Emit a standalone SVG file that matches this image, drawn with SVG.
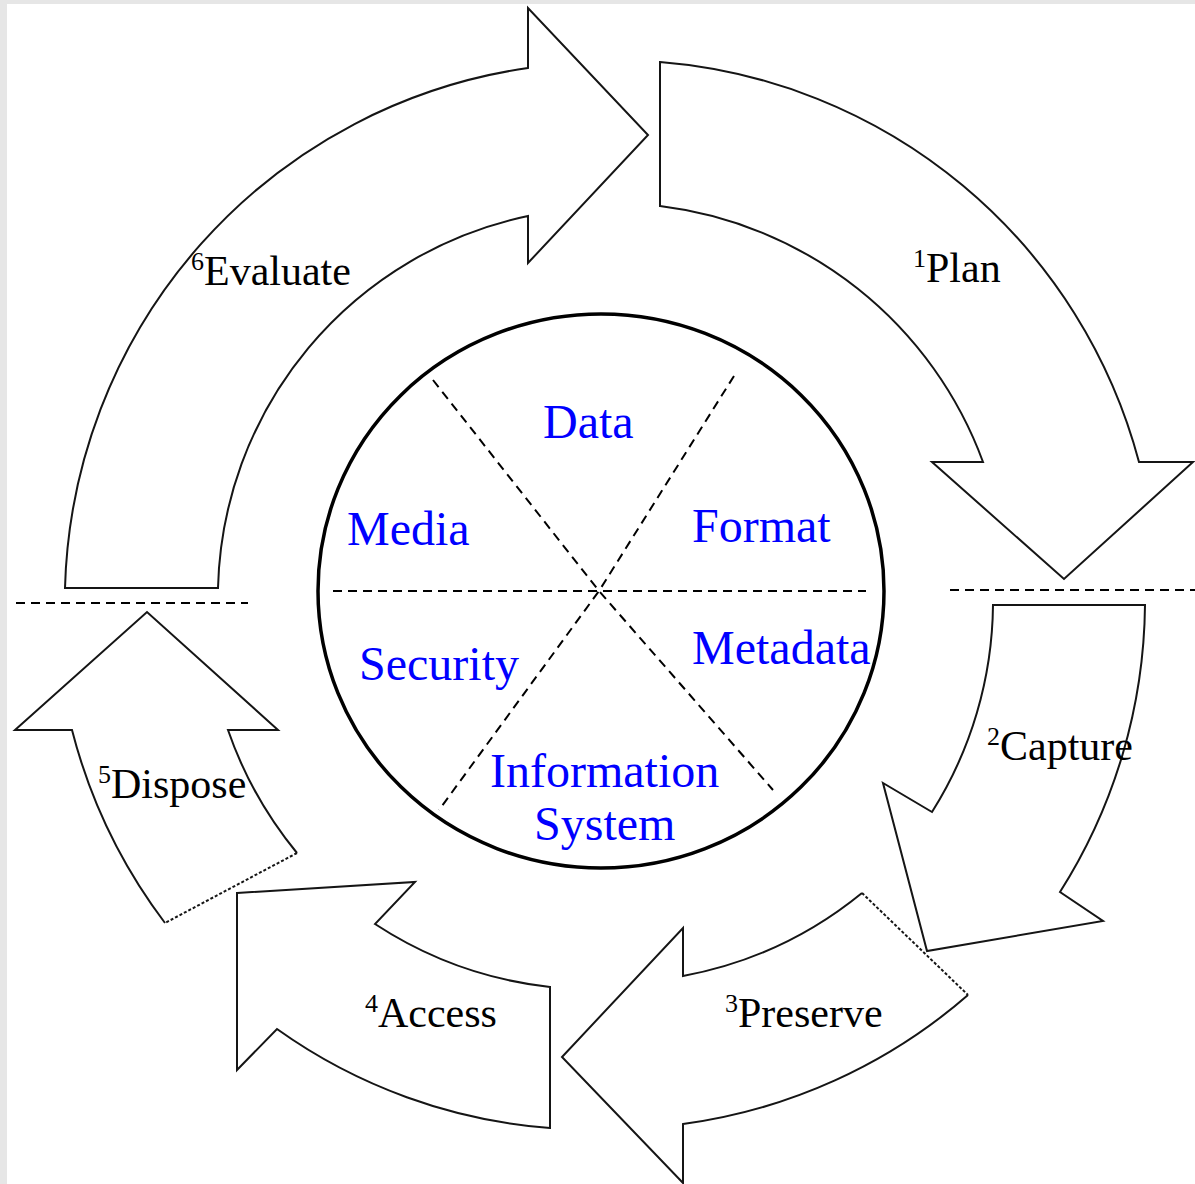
<svg xmlns="http://www.w3.org/2000/svg" width="1195" height="1184" viewBox="0 0 1195 1184">
<style>
.arrow{fill:#fff;stroke:#151515;stroke-width:2;stroke-linejoin:miter}
.dot{fill:none;stroke:#151515;stroke-width:2;stroke-dasharray:3 2}
.lbl{font-family:"Liberation Serif","Times New Roman",serif;font-size:42px;fill:#000}
.sup{font-size:26px}
.blue{font-family:"Liberation Serif","Times New Roman",serif;font-size:48px;fill:#0000ff}
.dash{fill:none;stroke:#000;stroke-width:2;stroke-dasharray:9 6}
</style>
<rect x="0" y="0" width="1195" height="1184" fill="#e6e6e6"/>
<rect x="7" y="4" width="1188" height="1180" fill="#ffffff"/>

<g id="connectors">
<line class="dash" x1="950" y1="590" x2="1195" y2="590"/>
<line class="dash" x1="16" y1="603" x2="248" y2="603"/>
</g>

<g id="evaluate">
<path class="arrow" d="M65,588 A540,540 0 0 1 528,68 L528,8 L648,135 L528,263 L528,216 A390,390 0 0 0 218,588 Z"/>
<text class="lbl" x="191" y="285"><tspan class="sup" dy="-15">6</tspan><tspan dy="15">Evaluate</tspan></text>
</g>

<g id="plan">
<path class="arrow" d="M660,62 A540,540 0 0 1 1139,462 L1193,462 L1064,579 L932,462 L983,462 A395,395 0 0 0 660,206 Z"/>
<text class="lbl" x="913" y="282"><tspan class="sup" dy="-15">1</tspan><tspan dy="15">Plan</tspan></text>
</g>

<g id="capture">
<path class="arrow" d="M993,605 L1145,605 A545,545 0 0 1 1060,892 L1103,921 L927,951 L883,783 L932,812 A395,395 0 0 0 993,605 Z"/>
<text class="lbl" x="987" y="760"><tspan class="sup" dy="-15">2</tspan><tspan dy="15">Capture</tspan></text>
</g>

<g id="preserve">
<path class="arrow" d="M968,995 A545,545 0 0 1 683,1124 L683,1183 L562,1057 L683,928 L683,976 A398,398 0 0 0 862,893"/>
<line class="dot" x1="862" y1="893" x2="968" y2="995"/>
<text class="lbl" x="725" y="1027"><tspan class="sup" dy="-15">3</tspan><tspan dy="15">Preserve</tspan></text>
</g>

<g id="access">
<path class="arrow" d="M237,893 L415,882 L375,924 A400,400 0 0 0 550,987 L550,1128 A540,540 0 0 1 277,1029 L237,1070 Z"/>
<text class="lbl" x="365" y="1027"><tspan class="sup" dy="-15">4</tspan><tspan dy="15">Access</tspan></text>
</g>

<g id="dispose">
<path class="arrow" d="M165,923 A546,546 0 0 1 72,730 L15,730 L147,612 L278,730 L228,730 A398,398 0 0 0 297,853"/>
<line class="dot" x1="297" y1="853" x2="165" y2="923"/>
<text class="lbl" x="98" y="798"><tspan class="sup" dy="-15">5</tspan><tspan dy="15">Dispose</tspan></text>
</g>

<g id="hub">
<ellipse cx="601" cy="591" rx="283" ry="277" fill="#fff" stroke="#000" stroke-width="3.5"/>
<line class="dash" x1="333" y1="591" x2="866" y2="591"/>
<polyline class="dash" points="433,380 599,591 773,790"/>
<polyline class="dash" points="734,376 599,591 439,810"/>
<text class="blue" x="543" y="438">Data</text>
<text class="blue" x="347" y="545">Media</text>
<text class="blue" x="692" y="542">Format</text>
<text class="blue" x="359" y="680">Security</text>
<text class="blue" x="692" y="664">Metadata</text>
<text class="blue" x="490" y="787">Information</text>
<text class="blue" x="534" y="840">System</text>
</g>
</svg>
